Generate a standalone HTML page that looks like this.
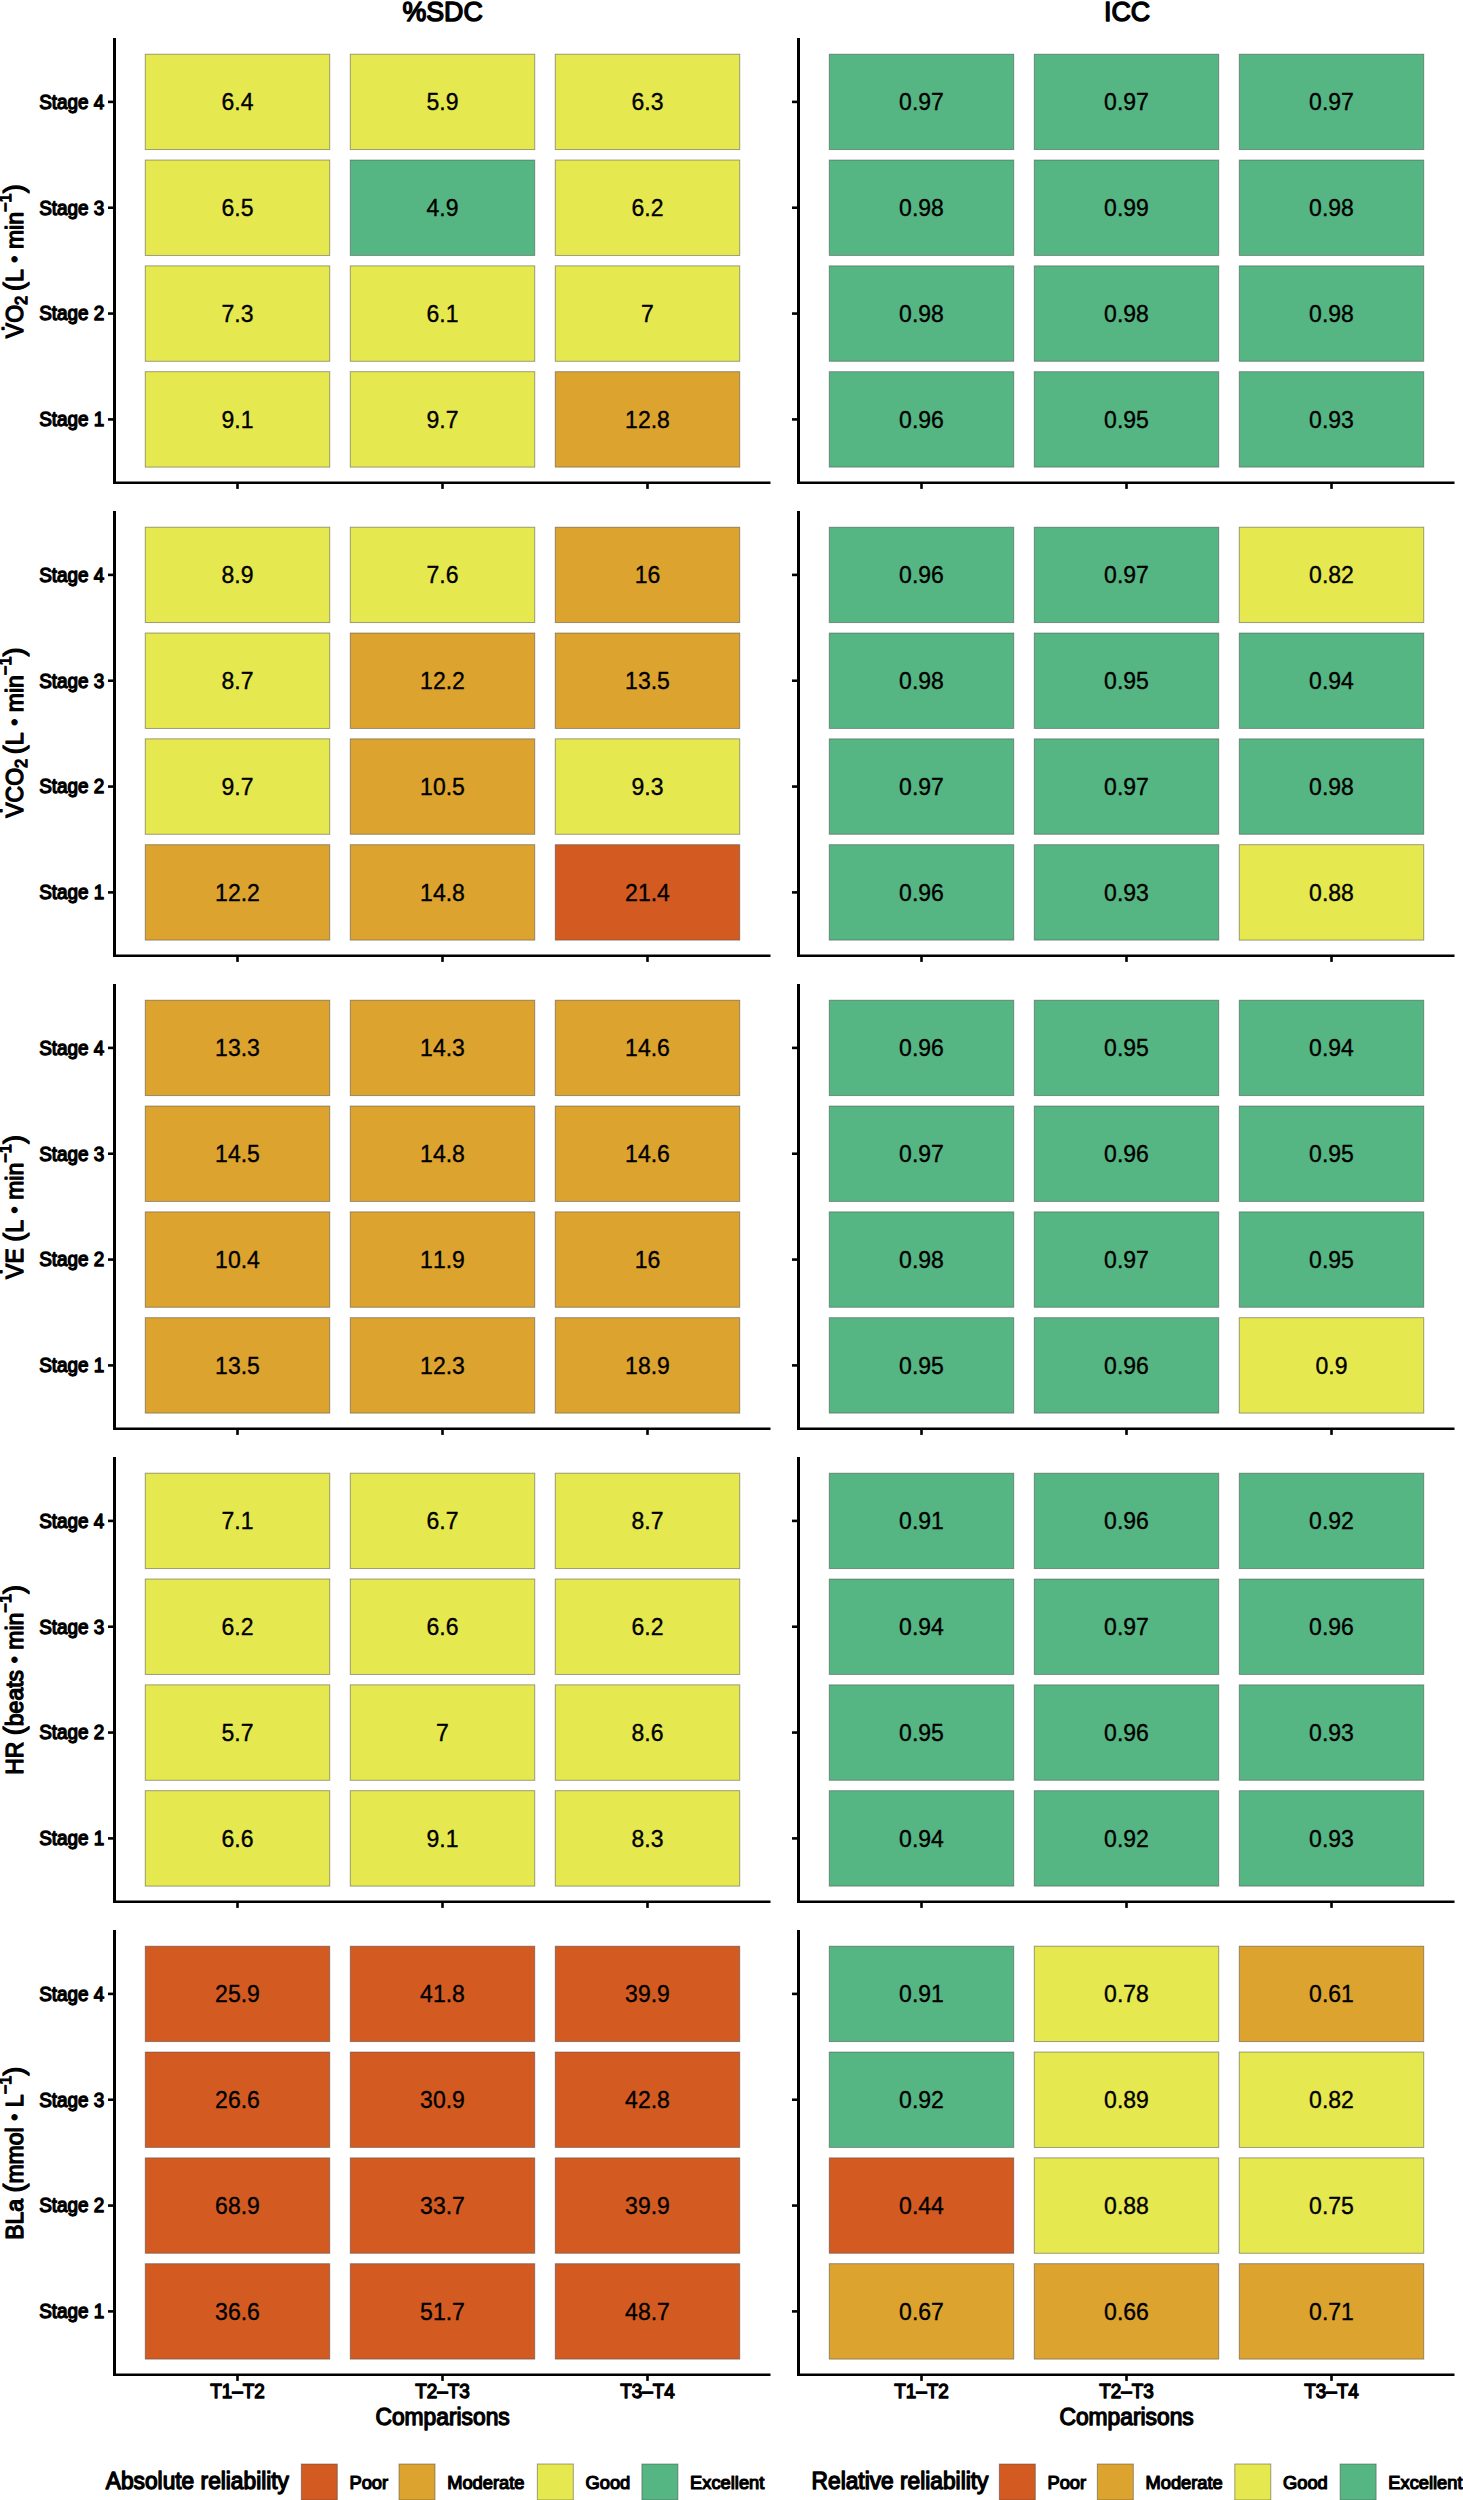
<!DOCTYPE html>
<html lang="en"><head><meta charset="utf-8"><title>Reliability heatmaps</title>
<style>html,body{margin:0;padding:0;background:#fff}body{width:1463px;height:2500px;overflow:hidden}svg{display:block}
text{font-family:"Liberation Sans",Arial,Helvetica,sans-serif;fill:#000;font-kerning:none;stroke-linejoin:round}
.tv{font-size:23.00px;text-anchor:middle;stroke:#000;stroke-width:0.35px}
.tk{font-size:18.90px;stroke:#000;stroke-width:1.25px}
.tt{font-size:23.00px;stroke:#000;stroke-width:1.30px}
.st{font-size:26.80px;stroke:#000;stroke-width:1.40px;text-anchor:middle}
.lg{font-size:18.30px;stroke:#000;stroke-width:1.20px}
.ax{stroke:#000;fill:none}
.tile{stroke:rgba(70,70,70,0.55);stroke-width:0.90px}
</style></head><body>
<svg width="1463" height="2500" viewBox="0 0 1463 2500">
<rect width="1463" height="2500" fill="#fff"/>
<text class="st" transform="translate(442.60 21.00) scale(1 1.040)">%SDC</text>
<text class="st" transform="translate(1127.10 21.00) scale(1 1.040)">ICC</text>
<rect class="tile" x="145.25" y="54.20" width="184.50" height="95.40" fill="#E6E84F"/>
<text class="tv" transform="translate(237.50 110.10) scale(1 1.040)">6.4</text>
<rect class="tile" x="350.25" y="54.20" width="184.50" height="95.40" fill="#E6E84F"/>
<text class="tv" transform="translate(442.50 110.10) scale(1 1.040)">5.9</text>
<rect class="tile" x="555.25" y="54.20" width="184.50" height="95.40" fill="#E6E84F"/>
<text class="tv" transform="translate(647.50 110.10) scale(1 1.040)">6.3</text>
<line class="ax" x1="108.00" y1="101.90" x2="113.00" y2="101.90" stroke-width="2.60"/>
<text class="tk" text-anchor="end" transform="translate(104.30 108.80) scale(1 1.040)">Stage 4</text>
<rect class="tile" x="145.25" y="160.03" width="184.50" height="95.40" fill="#E6E84F"/>
<text class="tv" transform="translate(237.50 215.93) scale(1 1.040)">6.5</text>
<rect class="tile" x="350.25" y="160.03" width="184.50" height="95.40" fill="#55B683"/>
<text class="tv" transform="translate(442.50 215.93) scale(1 1.040)">4.9</text>
<rect class="tile" x="555.25" y="160.03" width="184.50" height="95.40" fill="#E6E84F"/>
<text class="tv" transform="translate(647.50 215.93) scale(1 1.040)">6.2</text>
<line class="ax" x1="108.00" y1="207.73" x2="113.00" y2="207.73" stroke-width="2.60"/>
<text class="tk" text-anchor="end" transform="translate(104.30 214.63) scale(1 1.040)">Stage 3</text>
<rect class="tile" x="145.25" y="265.87" width="184.50" height="95.40" fill="#E6E84F"/>
<text class="tv" transform="translate(237.50 321.77) scale(1 1.040)">7.3</text>
<rect class="tile" x="350.25" y="265.87" width="184.50" height="95.40" fill="#E6E84F"/>
<text class="tv" transform="translate(442.50 321.77) scale(1 1.040)">6.1</text>
<rect class="tile" x="555.25" y="265.87" width="184.50" height="95.40" fill="#E6E84F"/>
<text class="tv" transform="translate(647.50 321.77) scale(1 1.040)">7</text>
<line class="ax" x1="108.00" y1="313.57" x2="113.00" y2="313.57" stroke-width="2.60"/>
<text class="tk" text-anchor="end" transform="translate(104.30 320.47) scale(1 1.040)">Stage 2</text>
<rect class="tile" x="145.25" y="371.70" width="184.50" height="95.40" fill="#E6E84F"/>
<text class="tv" transform="translate(237.50 427.60) scale(1 1.040)">9.1</text>
<rect class="tile" x="350.25" y="371.70" width="184.50" height="95.40" fill="#E6E84F"/>
<text class="tv" transform="translate(442.50 427.60) scale(1 1.040)">9.7</text>
<rect class="tile" x="555.25" y="371.70" width="184.50" height="95.40" fill="#DCA42F"/>
<text class="tv" transform="translate(647.50 427.60) scale(1 1.040)">12.8</text>
<line class="ax" x1="108.00" y1="419.40" x2="113.00" y2="419.40" stroke-width="2.60"/>
<text class="tk" text-anchor="end" transform="translate(104.30 426.30) scale(1 1.040)">Stage 1</text>
<line class="ax" x1="237.50" y1="482.80" x2="237.50" y2="488.90" stroke-width="2.60"/>
<line class="ax" x1="442.50" y1="482.80" x2="442.50" y2="488.90" stroke-width="2.60"/>
<line class="ax" x1="647.50" y1="482.80" x2="647.50" y2="488.90" stroke-width="2.60"/>
<line class="ax" stroke-width="3.00" x1="114.50" y1="38.00" x2="114.50" y2="484.10"/>
<line class="ax" stroke-width="2.70" x1="113.00" y1="482.75" x2="770.50" y2="482.75"/>
<rect class="tile" x="829.25" y="54.20" width="184.50" height="95.40" fill="#55B683"/>
<text class="tv" transform="translate(921.50 110.10) scale(1 1.040)">0.97</text>
<rect class="tile" x="1034.25" y="54.20" width="184.50" height="95.40" fill="#55B683"/>
<text class="tv" transform="translate(1126.50 110.10) scale(1 1.040)">0.97</text>
<rect class="tile" x="1239.25" y="54.20" width="184.50" height="95.40" fill="#55B683"/>
<text class="tv" transform="translate(1331.50 110.10) scale(1 1.040)">0.97</text>
<line class="ax" x1="792.00" y1="101.90" x2="797.00" y2="101.90" stroke-width="2.60"/>
<rect class="tile" x="829.25" y="160.03" width="184.50" height="95.40" fill="#55B683"/>
<text class="tv" transform="translate(921.50 215.93) scale(1 1.040)">0.98</text>
<rect class="tile" x="1034.25" y="160.03" width="184.50" height="95.40" fill="#55B683"/>
<text class="tv" transform="translate(1126.50 215.93) scale(1 1.040)">0.99</text>
<rect class="tile" x="1239.25" y="160.03" width="184.50" height="95.40" fill="#55B683"/>
<text class="tv" transform="translate(1331.50 215.93) scale(1 1.040)">0.98</text>
<line class="ax" x1="792.00" y1="207.73" x2="797.00" y2="207.73" stroke-width="2.60"/>
<rect class="tile" x="829.25" y="265.87" width="184.50" height="95.40" fill="#55B683"/>
<text class="tv" transform="translate(921.50 321.77) scale(1 1.040)">0.98</text>
<rect class="tile" x="1034.25" y="265.87" width="184.50" height="95.40" fill="#55B683"/>
<text class="tv" transform="translate(1126.50 321.77) scale(1 1.040)">0.98</text>
<rect class="tile" x="1239.25" y="265.87" width="184.50" height="95.40" fill="#55B683"/>
<text class="tv" transform="translate(1331.50 321.77) scale(1 1.040)">0.98</text>
<line class="ax" x1="792.00" y1="313.57" x2="797.00" y2="313.57" stroke-width="2.60"/>
<rect class="tile" x="829.25" y="371.70" width="184.50" height="95.40" fill="#55B683"/>
<text class="tv" transform="translate(921.50 427.60) scale(1 1.040)">0.96</text>
<rect class="tile" x="1034.25" y="371.70" width="184.50" height="95.40" fill="#55B683"/>
<text class="tv" transform="translate(1126.50 427.60) scale(1 1.040)">0.95</text>
<rect class="tile" x="1239.25" y="371.70" width="184.50" height="95.40" fill="#55B683"/>
<text class="tv" transform="translate(1331.50 427.60) scale(1 1.040)">0.93</text>
<line class="ax" x1="792.00" y1="419.40" x2="797.00" y2="419.40" stroke-width="2.60"/>
<line class="ax" x1="921.50" y1="482.80" x2="921.50" y2="488.90" stroke-width="2.60"/>
<line class="ax" x1="1126.50" y1="482.80" x2="1126.50" y2="488.90" stroke-width="2.60"/>
<line class="ax" x1="1331.50" y1="482.80" x2="1331.50" y2="488.90" stroke-width="2.60"/>
<line class="ax" stroke-width="3.00" x1="798.50" y1="38.00" x2="798.50" y2="484.10"/>
<line class="ax" stroke-width="2.70" x1="797.00" y1="482.75" x2="1454.50" y2="482.75"/>
<text class="tt" text-anchor="middle" transform="translate(23.4 261.25) rotate(-90) scale(1 1.015)">V<tspan dx="-8.4" dy="-4.4">˙</tspan><tspan dx="0.8" dy="4.4">O</tspan><tspan font-size="16.4px" dy="3.8">2</tspan><tspan dy="-3.8" word-spacing="-1.7px"> </tspan><tspan font-size="27px" dy="-0.2">(</tspan><tspan dy="0.2">L </tspan><tspan font-size="18.5px" dy="-2.4" dx="0.5">•</tspan><tspan dy="2.4" dx="0.5"> min</tspan><tspan font-size="16.4px" dy="-12.6">−1</tspan><tspan font-size="27px" dy="12.4">)</tspan></text>
<rect class="tile" x="145.25" y="527.20" width="184.50" height="95.40" fill="#E6E84F"/>
<text class="tv" transform="translate(237.50 583.10) scale(1 1.040)">8.9</text>
<rect class="tile" x="350.25" y="527.20" width="184.50" height="95.40" fill="#E6E84F"/>
<text class="tv" transform="translate(442.50 583.10) scale(1 1.040)">7.6</text>
<rect class="tile" x="555.25" y="527.20" width="184.50" height="95.40" fill="#DCA42F"/>
<text class="tv" transform="translate(647.50 583.10) scale(1 1.040)">16</text>
<line class="ax" x1="108.00" y1="574.90" x2="113.00" y2="574.90" stroke-width="2.60"/>
<text class="tk" text-anchor="end" transform="translate(104.30 581.80) scale(1 1.040)">Stage 4</text>
<rect class="tile" x="145.25" y="633.03" width="184.50" height="95.40" fill="#E6E84F"/>
<text class="tv" transform="translate(237.50 688.93) scale(1 1.040)">8.7</text>
<rect class="tile" x="350.25" y="633.03" width="184.50" height="95.40" fill="#DCA42F"/>
<text class="tv" transform="translate(442.50 688.93) scale(1 1.040)">12.2</text>
<rect class="tile" x="555.25" y="633.03" width="184.50" height="95.40" fill="#DCA42F"/>
<text class="tv" transform="translate(647.50 688.93) scale(1 1.040)">13.5</text>
<line class="ax" x1="108.00" y1="680.73" x2="113.00" y2="680.73" stroke-width="2.60"/>
<text class="tk" text-anchor="end" transform="translate(104.30 687.63) scale(1 1.040)">Stage 3</text>
<rect class="tile" x="145.25" y="738.87" width="184.50" height="95.40" fill="#E6E84F"/>
<text class="tv" transform="translate(237.50 794.77) scale(1 1.040)">9.7</text>
<rect class="tile" x="350.25" y="738.87" width="184.50" height="95.40" fill="#DCA42F"/>
<text class="tv" transform="translate(442.50 794.77) scale(1 1.040)">10.5</text>
<rect class="tile" x="555.25" y="738.87" width="184.50" height="95.40" fill="#E6E84F"/>
<text class="tv" transform="translate(647.50 794.77) scale(1 1.040)">9.3</text>
<line class="ax" x1="108.00" y1="786.57" x2="113.00" y2="786.57" stroke-width="2.60"/>
<text class="tk" text-anchor="end" transform="translate(104.30 793.47) scale(1 1.040)">Stage 2</text>
<rect class="tile" x="145.25" y="844.70" width="184.50" height="95.40" fill="#DCA42F"/>
<text class="tv" transform="translate(237.50 900.60) scale(1 1.040)">12.2</text>
<rect class="tile" x="350.25" y="844.70" width="184.50" height="95.40" fill="#DCA42F"/>
<text class="tv" transform="translate(442.50 900.60) scale(1 1.040)">14.8</text>
<rect class="tile" x="555.25" y="844.70" width="184.50" height="95.40" fill="#D35B21"/>
<text class="tv" transform="translate(647.50 900.60) scale(1 1.040)">21.4</text>
<line class="ax" x1="108.00" y1="892.40" x2="113.00" y2="892.40" stroke-width="2.60"/>
<text class="tk" text-anchor="end" transform="translate(104.30 899.30) scale(1 1.040)">Stage 1</text>
<line class="ax" x1="237.50" y1="955.80" x2="237.50" y2="961.90" stroke-width="2.60"/>
<line class="ax" x1="442.50" y1="955.80" x2="442.50" y2="961.90" stroke-width="2.60"/>
<line class="ax" x1="647.50" y1="955.80" x2="647.50" y2="961.90" stroke-width="2.60"/>
<line class="ax" stroke-width="3.00" x1="114.50" y1="511.00" x2="114.50" y2="957.10"/>
<line class="ax" stroke-width="2.70" x1="113.00" y1="955.75" x2="770.50" y2="955.75"/>
<rect class="tile" x="829.25" y="527.20" width="184.50" height="95.40" fill="#55B683"/>
<text class="tv" transform="translate(921.50 583.10) scale(1 1.040)">0.96</text>
<rect class="tile" x="1034.25" y="527.20" width="184.50" height="95.40" fill="#55B683"/>
<text class="tv" transform="translate(1126.50 583.10) scale(1 1.040)">0.97</text>
<rect class="tile" x="1239.25" y="527.20" width="184.50" height="95.40" fill="#E6E84F"/>
<text class="tv" transform="translate(1331.50 583.10) scale(1 1.040)">0.82</text>
<line class="ax" x1="792.00" y1="574.90" x2="797.00" y2="574.90" stroke-width="2.60"/>
<rect class="tile" x="829.25" y="633.03" width="184.50" height="95.40" fill="#55B683"/>
<text class="tv" transform="translate(921.50 688.93) scale(1 1.040)">0.98</text>
<rect class="tile" x="1034.25" y="633.03" width="184.50" height="95.40" fill="#55B683"/>
<text class="tv" transform="translate(1126.50 688.93) scale(1 1.040)">0.95</text>
<rect class="tile" x="1239.25" y="633.03" width="184.50" height="95.40" fill="#55B683"/>
<text class="tv" transform="translate(1331.50 688.93) scale(1 1.040)">0.94</text>
<line class="ax" x1="792.00" y1="680.73" x2="797.00" y2="680.73" stroke-width="2.60"/>
<rect class="tile" x="829.25" y="738.87" width="184.50" height="95.40" fill="#55B683"/>
<text class="tv" transform="translate(921.50 794.77) scale(1 1.040)">0.97</text>
<rect class="tile" x="1034.25" y="738.87" width="184.50" height="95.40" fill="#55B683"/>
<text class="tv" transform="translate(1126.50 794.77) scale(1 1.040)">0.97</text>
<rect class="tile" x="1239.25" y="738.87" width="184.50" height="95.40" fill="#55B683"/>
<text class="tv" transform="translate(1331.50 794.77) scale(1 1.040)">0.98</text>
<line class="ax" x1="792.00" y1="786.57" x2="797.00" y2="786.57" stroke-width="2.60"/>
<rect class="tile" x="829.25" y="844.70" width="184.50" height="95.40" fill="#55B683"/>
<text class="tv" transform="translate(921.50 900.60) scale(1 1.040)">0.96</text>
<rect class="tile" x="1034.25" y="844.70" width="184.50" height="95.40" fill="#55B683"/>
<text class="tv" transform="translate(1126.50 900.60) scale(1 1.040)">0.93</text>
<rect class="tile" x="1239.25" y="844.70" width="184.50" height="95.40" fill="#E6E84F"/>
<text class="tv" transform="translate(1331.50 900.60) scale(1 1.040)">0.88</text>
<line class="ax" x1="792.00" y1="892.40" x2="797.00" y2="892.40" stroke-width="2.60"/>
<line class="ax" x1="921.50" y1="955.80" x2="921.50" y2="961.90" stroke-width="2.60"/>
<line class="ax" x1="1126.50" y1="955.80" x2="1126.50" y2="961.90" stroke-width="2.60"/>
<line class="ax" x1="1331.50" y1="955.80" x2="1331.50" y2="961.90" stroke-width="2.60"/>
<line class="ax" stroke-width="3.00" x1="798.50" y1="511.00" x2="798.50" y2="957.10"/>
<line class="ax" stroke-width="2.70" x1="797.00" y1="955.75" x2="1454.50" y2="955.75"/>
<text class="tt" text-anchor="middle" transform="translate(23.4 732.65) rotate(-90) scale(1 1.015)">V<tspan dx="-10.9" dy="-5.9">˙</tspan><tspan dx="3.3" dy="5.9">CO</tspan><tspan font-size="16.4px" dy="3.8">2</tspan><tspan dy="-3.8" word-spacing="-1.7px"> </tspan><tspan font-size="27px" dy="-0.2">(</tspan><tspan dy="0.2">L </tspan><tspan font-size="18.5px" dy="-2.4" dx="0.5">•</tspan><tspan dy="2.4" dx="0.5"> min</tspan><tspan font-size="16.4px" dy="-12.6">−1</tspan><tspan font-size="27px" dy="12.4">)</tspan></text>
<rect class="tile" x="145.25" y="1000.20" width="184.50" height="95.40" fill="#DCA42F"/>
<text class="tv" transform="translate(237.50 1056.10) scale(1 1.040)">13.3</text>
<rect class="tile" x="350.25" y="1000.20" width="184.50" height="95.40" fill="#DCA42F"/>
<text class="tv" transform="translate(442.50 1056.10) scale(1 1.040)">14.3</text>
<rect class="tile" x="555.25" y="1000.20" width="184.50" height="95.40" fill="#DCA42F"/>
<text class="tv" transform="translate(647.50 1056.10) scale(1 1.040)">14.6</text>
<line class="ax" x1="108.00" y1="1047.90" x2="113.00" y2="1047.90" stroke-width="2.60"/>
<text class="tk" text-anchor="end" transform="translate(104.30 1054.80) scale(1 1.040)">Stage 4</text>
<rect class="tile" x="145.25" y="1106.03" width="184.50" height="95.40" fill="#DCA42F"/>
<text class="tv" transform="translate(237.50 1161.93) scale(1 1.040)">14.5</text>
<rect class="tile" x="350.25" y="1106.03" width="184.50" height="95.40" fill="#DCA42F"/>
<text class="tv" transform="translate(442.50 1161.93) scale(1 1.040)">14.8</text>
<rect class="tile" x="555.25" y="1106.03" width="184.50" height="95.40" fill="#DCA42F"/>
<text class="tv" transform="translate(647.50 1161.93) scale(1 1.040)">14.6</text>
<line class="ax" x1="108.00" y1="1153.73" x2="113.00" y2="1153.73" stroke-width="2.60"/>
<text class="tk" text-anchor="end" transform="translate(104.30 1160.63) scale(1 1.040)">Stage 3</text>
<rect class="tile" x="145.25" y="1211.87" width="184.50" height="95.40" fill="#DCA42F"/>
<text class="tv" transform="translate(237.50 1267.77) scale(1 1.040)">10.4</text>
<rect class="tile" x="350.25" y="1211.87" width="184.50" height="95.40" fill="#DCA42F"/>
<text class="tv" transform="translate(442.50 1267.77) scale(1 1.040)">11.9</text>
<rect class="tile" x="555.25" y="1211.87" width="184.50" height="95.40" fill="#DCA42F"/>
<text class="tv" transform="translate(647.50 1267.77) scale(1 1.040)">16</text>
<line class="ax" x1="108.00" y1="1259.57" x2="113.00" y2="1259.57" stroke-width="2.60"/>
<text class="tk" text-anchor="end" transform="translate(104.30 1266.47) scale(1 1.040)">Stage 2</text>
<rect class="tile" x="145.25" y="1317.70" width="184.50" height="95.40" fill="#DCA42F"/>
<text class="tv" transform="translate(237.50 1373.60) scale(1 1.040)">13.5</text>
<rect class="tile" x="350.25" y="1317.70" width="184.50" height="95.40" fill="#DCA42F"/>
<text class="tv" transform="translate(442.50 1373.60) scale(1 1.040)">12.3</text>
<rect class="tile" x="555.25" y="1317.70" width="184.50" height="95.40" fill="#DCA42F"/>
<text class="tv" transform="translate(647.50 1373.60) scale(1 1.040)">18.9</text>
<line class="ax" x1="108.00" y1="1365.40" x2="113.00" y2="1365.40" stroke-width="2.60"/>
<text class="tk" text-anchor="end" transform="translate(104.30 1372.30) scale(1 1.040)">Stage 1</text>
<line class="ax" x1="237.50" y1="1428.80" x2="237.50" y2="1434.90" stroke-width="2.60"/>
<line class="ax" x1="442.50" y1="1428.80" x2="442.50" y2="1434.90" stroke-width="2.60"/>
<line class="ax" x1="647.50" y1="1428.80" x2="647.50" y2="1434.90" stroke-width="2.60"/>
<line class="ax" stroke-width="3.00" x1="114.50" y1="984.00" x2="114.50" y2="1430.10"/>
<line class="ax" stroke-width="2.70" x1="113.00" y1="1428.75" x2="770.50" y2="1428.75"/>
<rect class="tile" x="829.25" y="1000.20" width="184.50" height="95.40" fill="#55B683"/>
<text class="tv" transform="translate(921.50 1056.10) scale(1 1.040)">0.96</text>
<rect class="tile" x="1034.25" y="1000.20" width="184.50" height="95.40" fill="#55B683"/>
<text class="tv" transform="translate(1126.50 1056.10) scale(1 1.040)">0.95</text>
<rect class="tile" x="1239.25" y="1000.20" width="184.50" height="95.40" fill="#55B683"/>
<text class="tv" transform="translate(1331.50 1056.10) scale(1 1.040)">0.94</text>
<line class="ax" x1="792.00" y1="1047.90" x2="797.00" y2="1047.90" stroke-width="2.60"/>
<rect class="tile" x="829.25" y="1106.03" width="184.50" height="95.40" fill="#55B683"/>
<text class="tv" transform="translate(921.50 1161.93) scale(1 1.040)">0.97</text>
<rect class="tile" x="1034.25" y="1106.03" width="184.50" height="95.40" fill="#55B683"/>
<text class="tv" transform="translate(1126.50 1161.93) scale(1 1.040)">0.96</text>
<rect class="tile" x="1239.25" y="1106.03" width="184.50" height="95.40" fill="#55B683"/>
<text class="tv" transform="translate(1331.50 1161.93) scale(1 1.040)">0.95</text>
<line class="ax" x1="792.00" y1="1153.73" x2="797.00" y2="1153.73" stroke-width="2.60"/>
<rect class="tile" x="829.25" y="1211.87" width="184.50" height="95.40" fill="#55B683"/>
<text class="tv" transform="translate(921.50 1267.77) scale(1 1.040)">0.98</text>
<rect class="tile" x="1034.25" y="1211.87" width="184.50" height="95.40" fill="#55B683"/>
<text class="tv" transform="translate(1126.50 1267.77) scale(1 1.040)">0.97</text>
<rect class="tile" x="1239.25" y="1211.87" width="184.50" height="95.40" fill="#55B683"/>
<text class="tv" transform="translate(1331.50 1267.77) scale(1 1.040)">0.95</text>
<line class="ax" x1="792.00" y1="1259.57" x2="797.00" y2="1259.57" stroke-width="2.60"/>
<rect class="tile" x="829.25" y="1317.70" width="184.50" height="95.40" fill="#55B683"/>
<text class="tv" transform="translate(921.50 1373.60) scale(1 1.040)">0.95</text>
<rect class="tile" x="1034.25" y="1317.70" width="184.50" height="95.40" fill="#55B683"/>
<text class="tv" transform="translate(1126.50 1373.60) scale(1 1.040)">0.96</text>
<rect class="tile" x="1239.25" y="1317.70" width="184.50" height="95.40" fill="#E6E84F"/>
<text class="tv" transform="translate(1331.50 1373.60) scale(1 1.040)">0.9</text>
<line class="ax" x1="792.00" y1="1365.40" x2="797.00" y2="1365.40" stroke-width="2.60"/>
<line class="ax" x1="921.50" y1="1428.80" x2="921.50" y2="1434.90" stroke-width="2.60"/>
<line class="ax" x1="1126.50" y1="1428.80" x2="1126.50" y2="1434.90" stroke-width="2.60"/>
<line class="ax" x1="1331.50" y1="1428.80" x2="1331.50" y2="1434.90" stroke-width="2.60"/>
<line class="ax" stroke-width="3.00" x1="798.50" y1="984.00" x2="798.50" y2="1430.10"/>
<line class="ax" stroke-width="2.70" x1="797.00" y1="1428.75" x2="1454.50" y2="1428.75"/>
<text class="tt" text-anchor="middle" transform="translate(23.4 1207.05) rotate(-90) scale(1 1.015)">V<tspan dx="-10.9" dy="-5.9">˙</tspan><tspan dx="3.3" dy="5.9">E </tspan><tspan font-size="27px" dy="-0.2">(</tspan><tspan dy="0.2">L </tspan><tspan font-size="18.5px" dy="-2.4" dx="0.5">•</tspan><tspan dy="2.4" dx="0.5"> min</tspan><tspan font-size="16.4px" dy="-12.6">−1</tspan><tspan font-size="27px" dy="12.4">)</tspan></text>
<rect class="tile" x="145.25" y="1473.20" width="184.50" height="95.40" fill="#E6E84F"/>
<text class="tv" transform="translate(237.50 1529.10) scale(1 1.040)">7.1</text>
<rect class="tile" x="350.25" y="1473.20" width="184.50" height="95.40" fill="#E6E84F"/>
<text class="tv" transform="translate(442.50 1529.10) scale(1 1.040)">6.7</text>
<rect class="tile" x="555.25" y="1473.20" width="184.50" height="95.40" fill="#E6E84F"/>
<text class="tv" transform="translate(647.50 1529.10) scale(1 1.040)">8.7</text>
<line class="ax" x1="108.00" y1="1520.90" x2="113.00" y2="1520.90" stroke-width="2.60"/>
<text class="tk" text-anchor="end" transform="translate(104.30 1527.80) scale(1 1.040)">Stage 4</text>
<rect class="tile" x="145.25" y="1579.03" width="184.50" height="95.40" fill="#E6E84F"/>
<text class="tv" transform="translate(237.50 1634.93) scale(1 1.040)">6.2</text>
<rect class="tile" x="350.25" y="1579.03" width="184.50" height="95.40" fill="#E6E84F"/>
<text class="tv" transform="translate(442.50 1634.93) scale(1 1.040)">6.6</text>
<rect class="tile" x="555.25" y="1579.03" width="184.50" height="95.40" fill="#E6E84F"/>
<text class="tv" transform="translate(647.50 1634.93) scale(1 1.040)">6.2</text>
<line class="ax" x1="108.00" y1="1626.73" x2="113.00" y2="1626.73" stroke-width="2.60"/>
<text class="tk" text-anchor="end" transform="translate(104.30 1633.63) scale(1 1.040)">Stage 3</text>
<rect class="tile" x="145.25" y="1684.87" width="184.50" height="95.40" fill="#E6E84F"/>
<text class="tv" transform="translate(237.50 1740.77) scale(1 1.040)">5.7</text>
<rect class="tile" x="350.25" y="1684.87" width="184.50" height="95.40" fill="#E6E84F"/>
<text class="tv" transform="translate(442.50 1740.77) scale(1 1.040)">7</text>
<rect class="tile" x="555.25" y="1684.87" width="184.50" height="95.40" fill="#E6E84F"/>
<text class="tv" transform="translate(647.50 1740.77) scale(1 1.040)">8.6</text>
<line class="ax" x1="108.00" y1="1732.57" x2="113.00" y2="1732.57" stroke-width="2.60"/>
<text class="tk" text-anchor="end" transform="translate(104.30 1739.47) scale(1 1.040)">Stage 2</text>
<rect class="tile" x="145.25" y="1790.70" width="184.50" height="95.40" fill="#E6E84F"/>
<text class="tv" transform="translate(237.50 1846.60) scale(1 1.040)">6.6</text>
<rect class="tile" x="350.25" y="1790.70" width="184.50" height="95.40" fill="#E6E84F"/>
<text class="tv" transform="translate(442.50 1846.60) scale(1 1.040)">9.1</text>
<rect class="tile" x="555.25" y="1790.70" width="184.50" height="95.40" fill="#E6E84F"/>
<text class="tv" transform="translate(647.50 1846.60) scale(1 1.040)">8.3</text>
<line class="ax" x1="108.00" y1="1838.40" x2="113.00" y2="1838.40" stroke-width="2.60"/>
<text class="tk" text-anchor="end" transform="translate(104.30 1845.30) scale(1 1.040)">Stage 1</text>
<line class="ax" x1="237.50" y1="1901.80" x2="237.50" y2="1907.90" stroke-width="2.60"/>
<line class="ax" x1="442.50" y1="1901.80" x2="442.50" y2="1907.90" stroke-width="2.60"/>
<line class="ax" x1="647.50" y1="1901.80" x2="647.50" y2="1907.90" stroke-width="2.60"/>
<line class="ax" stroke-width="3.00" x1="114.50" y1="1457.00" x2="114.50" y2="1903.10"/>
<line class="ax" stroke-width="2.70" x1="113.00" y1="1901.75" x2="770.50" y2="1901.75"/>
<rect class="tile" x="829.25" y="1473.20" width="184.50" height="95.40" fill="#55B683"/>
<text class="tv" transform="translate(921.50 1529.10) scale(1 1.040)">0.91</text>
<rect class="tile" x="1034.25" y="1473.20" width="184.50" height="95.40" fill="#55B683"/>
<text class="tv" transform="translate(1126.50 1529.10) scale(1 1.040)">0.96</text>
<rect class="tile" x="1239.25" y="1473.20" width="184.50" height="95.40" fill="#55B683"/>
<text class="tv" transform="translate(1331.50 1529.10) scale(1 1.040)">0.92</text>
<line class="ax" x1="792.00" y1="1520.90" x2="797.00" y2="1520.90" stroke-width="2.60"/>
<rect class="tile" x="829.25" y="1579.03" width="184.50" height="95.40" fill="#55B683"/>
<text class="tv" transform="translate(921.50 1634.93) scale(1 1.040)">0.94</text>
<rect class="tile" x="1034.25" y="1579.03" width="184.50" height="95.40" fill="#55B683"/>
<text class="tv" transform="translate(1126.50 1634.93) scale(1 1.040)">0.97</text>
<rect class="tile" x="1239.25" y="1579.03" width="184.50" height="95.40" fill="#55B683"/>
<text class="tv" transform="translate(1331.50 1634.93) scale(1 1.040)">0.96</text>
<line class="ax" x1="792.00" y1="1626.73" x2="797.00" y2="1626.73" stroke-width="2.60"/>
<rect class="tile" x="829.25" y="1684.87" width="184.50" height="95.40" fill="#55B683"/>
<text class="tv" transform="translate(921.50 1740.77) scale(1 1.040)">0.95</text>
<rect class="tile" x="1034.25" y="1684.87" width="184.50" height="95.40" fill="#55B683"/>
<text class="tv" transform="translate(1126.50 1740.77) scale(1 1.040)">0.96</text>
<rect class="tile" x="1239.25" y="1684.87" width="184.50" height="95.40" fill="#55B683"/>
<text class="tv" transform="translate(1331.50 1740.77) scale(1 1.040)">0.93</text>
<line class="ax" x1="792.00" y1="1732.57" x2="797.00" y2="1732.57" stroke-width="2.60"/>
<rect class="tile" x="829.25" y="1790.70" width="184.50" height="95.40" fill="#55B683"/>
<text class="tv" transform="translate(921.50 1846.60) scale(1 1.040)">0.94</text>
<rect class="tile" x="1034.25" y="1790.70" width="184.50" height="95.40" fill="#55B683"/>
<text class="tv" transform="translate(1126.50 1846.60) scale(1 1.040)">0.92</text>
<rect class="tile" x="1239.25" y="1790.70" width="184.50" height="95.40" fill="#55B683"/>
<text class="tv" transform="translate(1331.50 1846.60) scale(1 1.040)">0.93</text>
<line class="ax" x1="792.00" y1="1838.40" x2="797.00" y2="1838.40" stroke-width="2.60"/>
<line class="ax" x1="921.50" y1="1901.80" x2="921.50" y2="1907.90" stroke-width="2.60"/>
<line class="ax" x1="1126.50" y1="1901.80" x2="1126.50" y2="1907.90" stroke-width="2.60"/>
<line class="ax" x1="1331.50" y1="1901.80" x2="1331.50" y2="1907.90" stroke-width="2.60"/>
<line class="ax" stroke-width="3.00" x1="798.50" y1="1457.00" x2="798.50" y2="1903.10"/>
<line class="ax" stroke-width="2.70" x1="797.00" y1="1901.75" x2="1454.50" y2="1901.75"/>
<text class="tt" text-anchor="middle" transform="translate(23.4 1679.85) rotate(-90) scale(1 1.015)">HR <tspan font-size="27px" dy="-0.2">(</tspan><tspan dy="0.2">beats </tspan><tspan font-size="18.5px" dy="-2.4" dx="0.5">•</tspan><tspan dy="2.4" dx="0.5"> min</tspan><tspan font-size="16.4px" dy="-12.6">−1</tspan><tspan font-size="27px" dy="12.4">)</tspan></text>
<rect class="tile" x="145.25" y="1946.20" width="184.50" height="95.40" fill="#D35B21"/>
<text class="tv" transform="translate(237.50 2002.10) scale(1 1.040)">25.9</text>
<rect class="tile" x="350.25" y="1946.20" width="184.50" height="95.40" fill="#D35B21"/>
<text class="tv" transform="translate(442.50 2002.10) scale(1 1.040)">41.8</text>
<rect class="tile" x="555.25" y="1946.20" width="184.50" height="95.40" fill="#D35B21"/>
<text class="tv" transform="translate(647.50 2002.10) scale(1 1.040)">39.9</text>
<line class="ax" x1="108.00" y1="1993.90" x2="113.00" y2="1993.90" stroke-width="2.60"/>
<text class="tk" text-anchor="end" transform="translate(104.30 2000.80) scale(1 1.040)">Stage 4</text>
<rect class="tile" x="145.25" y="2052.03" width="184.50" height="95.40" fill="#D35B21"/>
<text class="tv" transform="translate(237.50 2107.93) scale(1 1.040)">26.6</text>
<rect class="tile" x="350.25" y="2052.03" width="184.50" height="95.40" fill="#D35B21"/>
<text class="tv" transform="translate(442.50 2107.93) scale(1 1.040)">30.9</text>
<rect class="tile" x="555.25" y="2052.03" width="184.50" height="95.40" fill="#D35B21"/>
<text class="tv" transform="translate(647.50 2107.93) scale(1 1.040)">42.8</text>
<line class="ax" x1="108.00" y1="2099.73" x2="113.00" y2="2099.73" stroke-width="2.60"/>
<text class="tk" text-anchor="end" transform="translate(104.30 2106.63) scale(1 1.040)">Stage 3</text>
<rect class="tile" x="145.25" y="2157.87" width="184.50" height="95.40" fill="#D35B21"/>
<text class="tv" transform="translate(237.50 2213.77) scale(1 1.040)">68.9</text>
<rect class="tile" x="350.25" y="2157.87" width="184.50" height="95.40" fill="#D35B21"/>
<text class="tv" transform="translate(442.50 2213.77) scale(1 1.040)">33.7</text>
<rect class="tile" x="555.25" y="2157.87" width="184.50" height="95.40" fill="#D35B21"/>
<text class="tv" transform="translate(647.50 2213.77) scale(1 1.040)">39.9</text>
<line class="ax" x1="108.00" y1="2205.57" x2="113.00" y2="2205.57" stroke-width="2.60"/>
<text class="tk" text-anchor="end" transform="translate(104.30 2212.47) scale(1 1.040)">Stage 2</text>
<rect class="tile" x="145.25" y="2263.70" width="184.50" height="95.40" fill="#D35B21"/>
<text class="tv" transform="translate(237.50 2319.60) scale(1 1.040)">36.6</text>
<rect class="tile" x="350.25" y="2263.70" width="184.50" height="95.40" fill="#D35B21"/>
<text class="tv" transform="translate(442.50 2319.60) scale(1 1.040)">51.7</text>
<rect class="tile" x="555.25" y="2263.70" width="184.50" height="95.40" fill="#D35B21"/>
<text class="tv" transform="translate(647.50 2319.60) scale(1 1.040)">48.7</text>
<line class="ax" x1="108.00" y1="2311.40" x2="113.00" y2="2311.40" stroke-width="2.60"/>
<text class="tk" text-anchor="end" transform="translate(104.30 2318.30) scale(1 1.040)">Stage 1</text>
<line class="ax" x1="237.50" y1="2374.80" x2="237.50" y2="2380.90" stroke-width="2.60"/>
<text class="tk" text-anchor="middle" transform="translate(237.50 2397.90) scale(1 1.040)">T1–T2</text>
<line class="ax" x1="442.50" y1="2374.80" x2="442.50" y2="2380.90" stroke-width="2.60"/>
<text class="tk" text-anchor="middle" transform="translate(442.50 2397.90) scale(1 1.040)">T2–T3</text>
<line class="ax" x1="647.50" y1="2374.80" x2="647.50" y2="2380.90" stroke-width="2.60"/>
<text class="tk" text-anchor="middle" transform="translate(647.50 2397.90) scale(1 1.040)">T3–T4</text>
<line class="ax" stroke-width="3.00" x1="114.50" y1="1930.00" x2="114.50" y2="2376.10"/>
<line class="ax" stroke-width="2.70" x1="113.00" y1="2374.75" x2="770.50" y2="2374.75"/>
<rect class="tile" x="829.25" y="1946.20" width="184.50" height="95.40" fill="#55B683"/>
<text class="tv" transform="translate(921.50 2002.10) scale(1 1.040)">0.91</text>
<rect class="tile" x="1034.25" y="1946.20" width="184.50" height="95.40" fill="#E6E84F"/>
<text class="tv" transform="translate(1126.50 2002.10) scale(1 1.040)">0.78</text>
<rect class="tile" x="1239.25" y="1946.20" width="184.50" height="95.40" fill="#DCA42F"/>
<text class="tv" transform="translate(1331.50 2002.10) scale(1 1.040)">0.61</text>
<line class="ax" x1="792.00" y1="1993.90" x2="797.00" y2="1993.90" stroke-width="2.60"/>
<rect class="tile" x="829.25" y="2052.03" width="184.50" height="95.40" fill="#55B683"/>
<text class="tv" transform="translate(921.50 2107.93) scale(1 1.040)">0.92</text>
<rect class="tile" x="1034.25" y="2052.03" width="184.50" height="95.40" fill="#E6E84F"/>
<text class="tv" transform="translate(1126.50 2107.93) scale(1 1.040)">0.89</text>
<rect class="tile" x="1239.25" y="2052.03" width="184.50" height="95.40" fill="#E6E84F"/>
<text class="tv" transform="translate(1331.50 2107.93) scale(1 1.040)">0.82</text>
<line class="ax" x1="792.00" y1="2099.73" x2="797.00" y2="2099.73" stroke-width="2.60"/>
<rect class="tile" x="829.25" y="2157.87" width="184.50" height="95.40" fill="#D35B21"/>
<text class="tv" transform="translate(921.50 2213.77) scale(1 1.040)">0.44</text>
<rect class="tile" x="1034.25" y="2157.87" width="184.50" height="95.40" fill="#E6E84F"/>
<text class="tv" transform="translate(1126.50 2213.77) scale(1 1.040)">0.88</text>
<rect class="tile" x="1239.25" y="2157.87" width="184.50" height="95.40" fill="#E6E84F"/>
<text class="tv" transform="translate(1331.50 2213.77) scale(1 1.040)">0.75</text>
<line class="ax" x1="792.00" y1="2205.57" x2="797.00" y2="2205.57" stroke-width="2.60"/>
<rect class="tile" x="829.25" y="2263.70" width="184.50" height="95.40" fill="#DCA42F"/>
<text class="tv" transform="translate(921.50 2319.60) scale(1 1.040)">0.67</text>
<rect class="tile" x="1034.25" y="2263.70" width="184.50" height="95.40" fill="#DCA42F"/>
<text class="tv" transform="translate(1126.50 2319.60) scale(1 1.040)">0.66</text>
<rect class="tile" x="1239.25" y="2263.70" width="184.50" height="95.40" fill="#DCA42F"/>
<text class="tv" transform="translate(1331.50 2319.60) scale(1 1.040)">0.71</text>
<line class="ax" x1="792.00" y1="2311.40" x2="797.00" y2="2311.40" stroke-width="2.60"/>
<line class="ax" x1="921.50" y1="2374.80" x2="921.50" y2="2380.90" stroke-width="2.60"/>
<text class="tk" text-anchor="middle" transform="translate(921.50 2397.90) scale(1 1.040)">T1–T2</text>
<line class="ax" x1="1126.50" y1="2374.80" x2="1126.50" y2="2380.90" stroke-width="2.60"/>
<text class="tk" text-anchor="middle" transform="translate(1126.50 2397.90) scale(1 1.040)">T2–T3</text>
<line class="ax" x1="1331.50" y1="2374.80" x2="1331.50" y2="2380.90" stroke-width="2.60"/>
<text class="tk" text-anchor="middle" transform="translate(1331.50 2397.90) scale(1 1.040)">T3–T4</text>
<line class="ax" stroke-width="3.00" x1="798.50" y1="1930.00" x2="798.50" y2="2376.10"/>
<line class="ax" stroke-width="2.70" x1="797.00" y1="2374.75" x2="1454.50" y2="2374.75"/>
<text class="tt" text-anchor="middle" transform="translate(23.4 2153.25) rotate(-90) scale(1 1.015)">BLa <tspan font-size="27px" dy="-0.2">(</tspan><tspan dy="0.2">mmol </tspan><tspan font-size="18.5px" dy="-2.4" dx="0.5">•</tspan><tspan dy="2.4" dx="0.5"> L</tspan><tspan font-size="16.4px" dy="-12.6">−1</tspan><tspan font-size="27px" dy="12.4">)</tspan></text>
<text class="tt" text-anchor="middle" style="font-size:22.8px" transform="translate(442.60 2424.60) scale(1 1.040)">Comparisons</text>
<text class="tt" text-anchor="middle" style="font-size:22.8px" transform="translate(1126.60 2424.60) scale(1 1.040)">Comparisons</text>
<text class="tt" style="font-size:22.75px" transform="translate(105.80 2489.40) scale(1 1.040)">Absolute reliability</text>
<rect class="tile" x="301.30" y="2464" width="36" height="36" fill="#D35B21"/>
<text class="lg" transform="translate(349.50 2488.80) scale(1 1.040)">Poor</text>
<rect class="tile" x="399.00" y="2464" width="36" height="36" fill="#DCA42F"/>
<text class="lg" transform="translate(447.20 2488.80) scale(1 1.040)">Moderate</text>
<rect class="tile" x="537.30" y="2464" width="36" height="36" fill="#E6E84F"/>
<text class="lg" transform="translate(585.50 2488.80) scale(1 1.040)">Good</text>
<rect class="tile" x="641.90" y="2464" width="36" height="36" fill="#55B683"/>
<text class="lg" transform="translate(690.10 2488.80) scale(1 1.040)">Excellent</text>
<text class="tt" style="font-size:22.75px" transform="translate(811.60 2489.40) scale(1 1.040)">Relative reliability</text>
<rect class="tile" x="999.30" y="2464" width="36" height="36" fill="#D35B21"/>
<text class="lg" transform="translate(1047.50 2488.80) scale(1 1.040)">Poor</text>
<rect class="tile" x="1097.30" y="2464" width="36" height="36" fill="#DCA42F"/>
<text class="lg" transform="translate(1145.50 2488.80) scale(1 1.040)">Moderate</text>
<rect class="tile" x="1234.80" y="2464" width="36" height="36" fill="#E6E84F"/>
<text class="lg" transform="translate(1283.00 2488.80) scale(1 1.040)">Good</text>
<rect class="tile" x="1340.10" y="2464" width="36" height="36" fill="#55B683"/>
<text class="lg" transform="translate(1388.30 2488.80) scale(1 1.040)">Excellent</text>
</svg></body></html>
